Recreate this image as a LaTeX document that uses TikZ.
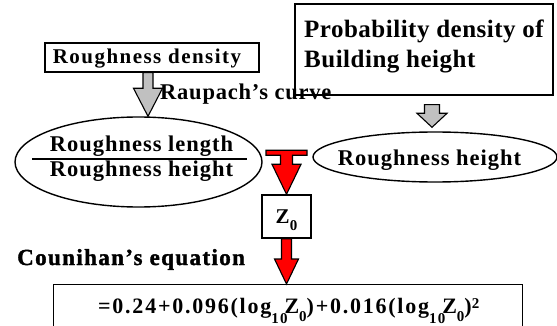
\documentclass[tikz,border=0pt]{standalone}
\usepackage{fontspec}
\setmainfont{Liberation Serif}
\usetikzlibrary{shapes.geometric,calc}
\newfontfamily\lsA{Liberation Serif}[LetterSpace=7]
\newfontfamily\lsB{Liberation Serif}[LetterSpace=2]
\newfontfamily\lsC{Liberation Serif}[LetterSpace=3.5]
\newfontfamily\lsE{Liberation Serif}[LetterSpace=4.4]
\newfontfamily\lsD{Liberation Serif Bold}[LetterSpace=6,FakeBold=1.5]
\newfontfamily\lsF{Liberation Serif}[LetterSpace=8]
\newcommand\lowsub[2]{\raisebox{-#1}{\fontsize{15pt}{15pt}\selectfont #2}}
\definecolor{arrgray}{RGB}{192,192,192}
\definecolor{arrred}{RGB}{255,0,0}
\begin{document}
\begin{tikzpicture}[x=1pt,y=-1pt,
  box/.style={draw,line width=1.4pt,inner sep=0pt},
  oval/.style={draw,ellipse,line width=1.4pt,inner sep=0pt},
  lbl/.style={inner sep=0pt},
  grayarrow/.style={draw,line width=1.1pt,fill=arrgray,line join=miter},
  redarrow/.style={draw,line width=1.1pt,fill=arrred,line join=miter}]
\useasboundingbox (0,0) rectangle (557,326);
\fill[white] (0,0) rectangle (557,326);
% boxes
\node[box,minimum width=214pt,minimum height=29pt,text height=13pt,text depth=0pt]
  (rd) at (152,57.5) {\lsA\bfseries\fontsize{21pt}{25pt}\selectfont Roughness density\hspace*{10pt}};
\node[box,minimum width=258pt,minimum height=91pt,align=left,text depth=12.5pt,
  font=\lsB\bfseries\fontsize{25pt}{30pt}\selectfont]
  (pd) at (424,49.5) {Probability density of\\Building height};
% ellipses
\node[oval,minimum width=247pt,minimum height=90pt] (e1) at (138.5,162) {};
\node[lbl,anchor=base] (rl) at ($(e1.center)+(3,-10)$) {\lsE\bfseries\fontsize{22.5pt}{25pt}\selectfont Roughness length};
\node[lbl,anchor=base] (rh) at ($(e1.center)+(3,15)$) {\lsE\bfseries\fontsize{22.5pt}{25pt}\selectfont Roughness height};
\draw[line width=1.6pt] ($(e1.center)+(-106.5,-3)$) coordinate (fl) -- ($(e1.center)+(108.5,-3)$) coordinate (fr);
\node[oval,minimum width=244pt,minimum height=50pt] (e2) at (435,157) {};
\node[lbl,anchor=base] (rh2) at ($(e2.center)+(-5.5,8)$) {\lsE\bfseries\fontsize{22.5pt}{25pt}\selectfont Roughness height};
% Z0 box
\node[box,minimum width=49pt,minimum height=43pt,text height=15pt,text depth=2pt]
  (z) at (286.5,216.5) {\bfseries\fontsize{21pt}{25pt}\selectfont Z\lowsub{7pt}{0}};
% equation box
\node[box,anchor=north west,minimum width=469pt,minimum height=62pt] (eq) at (53,284) {};
\node[lbl,anchor=base west] (eqt) at ($(eq.north west)+(45,29.5)$)
  {\lsF\bfseries\fontsize{22pt}{25pt}\selectfont =0.24+0.096(log\lowsub{10pt}{10}\kern-3pt Z\lowsub{8pt}{0})+0.016(log\lowsub{10pt}{10}\kern-3pt Z\lowsub{8pt}{0})\raisebox{5pt}{\fontsize{15pt}{15pt}\selectfont 2}};
% labels
\node[lbl,anchor=base west] (rc) at (160,100) {\lsC\bfseries\fontsize{22.5pt}{25pt}\selectfont Raupach’s curve};
\node[lbl,anchor=base west] (ce) at (17,265) {\lsD\fontsize{23pt}{25pt}\selectfont Counihan’s equation};
% gray arrow 1
\coordinate (g1s) at ($(rd.south)+(-4,0)$);
\coordinate (g1t) at (g1s |- e1.north);
\draw[grayarrow] ($(g1s)+(-5,0)$) -- ($(g1s)+(5,0)$) -- ($(g1t)+(5,-28)$) -- ($(g1t)+(14.5,-28)$)
  -- (g1t) -- ($(g1t)+(-14.5,-28)$) -- ($(g1t)+(-5,-28)$) -- cycle;
% gray arrow 2
\coordinate (g2s) at ($(pd.south)+(8,9)$);
\coordinate (g2t) at ($(g2s |- e2.north)+(0,-4)$);
\draw[grayarrow] ($(g2s)+(-7.5,0)$) -- ($(g2s)+(7.5,0)$) -- ($(g2t)+(7.5,-14)$) -- ($(g2t)+(15,-14)$)
  -- (g2t) -- ($(g2t)+(-15,-14)$) -- ($(g2t)+(-7.5,-14)$) -- cycle;
% red T arrow
\coordinate (rt) at (z.north);
\draw[redarrow] ($(rt)+(-20.5,-44)$) -- ($(rt)+(20.5,-44)$) -- ($(rt)+(20.5,-39)$) -- ($(rt)+(6,-39)$)
  -- ($(rt)+(6,-30)$) -- ($(rt)+(14.5,-30)$) -- (rt) -- ($(rt)+(-14.5,-30)$) -- ($(rt)+(-6,-30)$)
  -- ($(rt)+(-6,-39)$) -- ($(rt)+(-20.5,-39)$) -- cycle;
% red arrow 2
\coordinate (r2s) at (z.south);
\coordinate (r2t) at (r2s |- eq.north);
\draw[redarrow] ($(r2s)+(-5,0)$) -- ($(r2s)+(5,0)$) -- ($(r2t)+(5,-25)$) -- ($(r2t)+(12,-25)$)
  -- (r2t) -- ($(r2t)+(-12,-25)$) -- ($(r2t)+(-5,-25)$) -- cycle;
\end{tikzpicture}
\end{document}
